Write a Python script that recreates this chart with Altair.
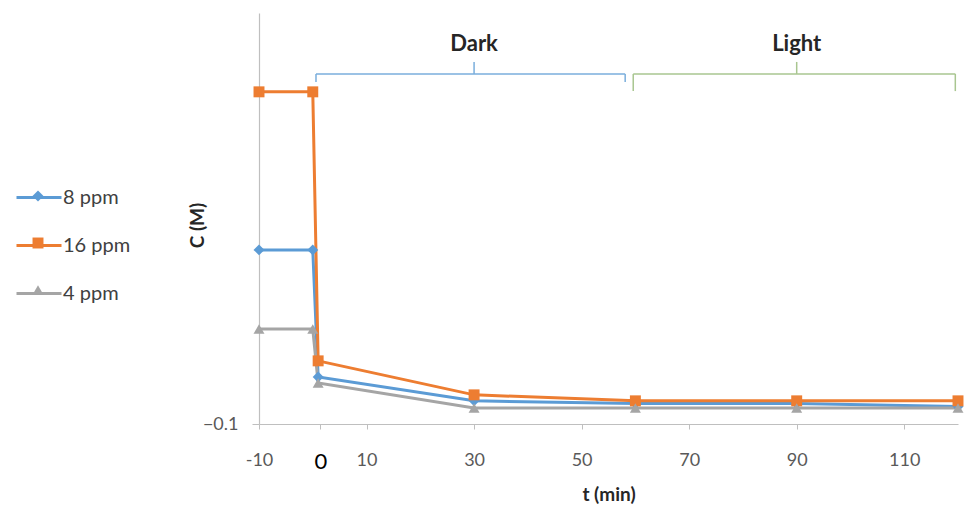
import altair as alt
import pandas as pd

# ---------------- data ----------------
times = [-10, 0, 1, 30, 60, 90, 120]
series_names = ["8 ppm", "16 ppm", "4 ppm"]
c_8ppm = [0.366, 0.366, 0.026, -0.038, -0.045, -0.045, -0.053]
c_16ppm = [0.789, 0.789, 0.069, -0.022, -0.038, -0.038, -0.038]
c_4ppm = [0.154, 0.154, 0.010, -0.057, -0.057, -0.057, -0.057]
series_colors = ["#5b9bd5", "#ed7d31", "#a5a5a5"]
series_shapes = ["diamond", "square", "triangle-up"]

x_tick_values = [-10, 1.4, 10, 30, 50, 70, 90, 110]
x_tick_labels = ["-10", "0", "10", "30", "50", "70", "90", "110"]
y_tick_values = [-0.1]

phase_names = ["Dark", "Light"]
phase_from = [0.6, 59.6]
phase_to = [58.1, 119.5]
phase_mid = [30, 90]
phase_end_level = [0.815, 0.791]
phase_colors = ["#7aaedc", "#a9c690"]
BRACE_LEVEL = 0.837
NOTCH_LEVEL = 0.869
LABEL_LEVEL = 0.917

FONT = "Lato"

rows = []
for name, vals in zip(series_names, [c_8ppm, c_16ppm, c_4ppm]):
    for t, c in zip(times, vals):
        rows.append({"series": name, "series_p": name, "t": t, "c": c})
df = pd.DataFrame(rows)

phases = pd.DataFrame({
    "phase": phase_names,
    "start": phase_from,
    "end": phase_to,
    "mid": phase_mid,
    "endlevel": phase_end_level,
})
phases["level"] = BRACE_LEVEL
phases["notch"] = NOTCH_LEVEL
phases["labely"] = LABEL_LEVEL

x_scale = alt.Scale(domain=[-10, 120], nice=False, zero=False)
y_scale = alt.Scale(domain=[-0.1, 1.0], nice=False, zero=False)

label_map = "{" + ", ".join(f"'{v}': '{l}'" for v, l in zip(x_tick_values, x_tick_labels)) + "}"
zero_test = "datum.value == 1.4"

x_axis = alt.Axis(
    values=x_tick_values,
    labelExpr=f"{label_map}[datum.value]",
    title="t (min)",
    titleFont=FONT, titleFontSize=19, titleFontWeight="bold", titleColor="#262626",
    titleY=70, titleBaseline="middle",
    labelFont=FONT,
    labelFontSize={"condition": {"test": zero_test, "value": 22}, "value": 18},
    labelColor={"condition": {"test": zero_test, "value": "#000000"}, "value": "#595959"},
    labelPadding=22, tickSize=5, tickColor="#bfbfbf", domainColor="#bfbfbf",
    domainWidth=1.2, grid=False, labelFlush=False,
)
y_axis = alt.Axis(
    values=y_tick_values, format=".1f",
    title="C (M)",
    titleFont=FONT, titleFontSize=19, titleFontWeight="bold", titleColor="#262626",
    titleX=-62, titleY=212, titleAngle=-90, titleAlign="center", titleBaseline="middle",
    labelFont=FONT, labelFontSize=18, labelColor="#595959",
    labelPadding=14, tickSize=7, tickColor="#bfbfbf", domainColor="#bfbfbf",
    domainWidth=1.2, grid=False,
)

line_legend = alt.Legend(
    orient="none", legendX=-244, legendY=160.5, title=None,
    symbolType="stroke", symbolSize=2025, symbolStrokeWidth=3,
    labelFont=FONT, labelFontSize=20, labelColor="#404040", labelOffset=0,
    rowPadding=14, padding=0,
)
point_legend = alt.Legend(
    orient="none", legendX=-230, legendY=174, title=None,
    symbolSize=120, symbolStrokeWidth=0,
    labelExpr="''",
    labelFont=FONT, labelFontSize=18, labelOffset=0,
    rowPadding=29, padding=0,
)

lines = alt.Chart(df).mark_line(strokeWidth=3).encode(
    x=alt.X("t:Q", scale=x_scale, axis=x_axis),
    y=alt.Y("c:Q", scale=y_scale, axis=y_axis),
    color=alt.Color("series:N", sort=series_names, scale=alt.Scale(range=series_colors), legend=line_legend),
    detail="series:N",
)

points = alt.Chart(df).mark_point(filled=True, size=120, opacity=1, strokeWidth=0).encode(
    x=alt.X("t:Q", scale=x_scale),
    y=alt.Y("c:Q", scale=y_scale),
    fill=alt.Fill("series_p:N", scale=alt.Scale(domain=series_names, range=series_colors), legend=point_legend),
    shape=alt.Shape("series_p:N", scale=alt.Scale(domain=series_names, range=series_shapes), legend=point_legend),
)

stroke_enc = alt.Stroke("phase:N", scale=alt.Scale(domain=phase_names, range=phase_colors), legend=None)
pb = alt.Chart(phases)

brace_h = pb.mark_rule(strokeWidth=1.5).encode(
    x=alt.X("start:Q", scale=x_scale), x2="end:Q",
    y=alt.Y("level:Q", scale=y_scale), stroke=stroke_enc,
)
brace_l = pb.mark_rule(strokeWidth=1.5).encode(
    x=alt.X("start:Q", scale=x_scale),
    y=alt.Y("level:Q", scale=y_scale), y2="endlevel:Q", stroke=stroke_enc,
)
brace_r = pb.mark_rule(strokeWidth=1.5).encode(
    x=alt.X("end:Q", scale=x_scale),
    y=alt.Y("level:Q", scale=y_scale), y2="endlevel:Q", stroke=stroke_enc,
)
brace_n = pb.mark_rule(strokeWidth=1.5).encode(
    x=alt.X("mid:Q", scale=x_scale),
    y=alt.Y("level:Q", scale=y_scale), y2="notch:Q", stroke=stroke_enc,
)
brace_t = pb.mark_text(font=FONT, fontSize=22, fontWeight="bold", color="#262626", baseline="middle").encode(
    x=alt.X("mid:Q", scale=x_scale),
    y=alt.Y("labely:Q", scale=y_scale),
    text="phase:N",
)

chart = alt.layer(lines, points, brace_h, brace_l, brace_r, brace_n, brace_t).properties(
    width=699, height=411,
    padding={"left": 259, "top": 13, "right": 7, "bottom": 90},
    autosize=alt.AutoSizeParams(type="none"),
    background="white",
).configure_view(stroke=None)

chart.save("out.html", embed_options={"renderer": "svg", "actions": False})
